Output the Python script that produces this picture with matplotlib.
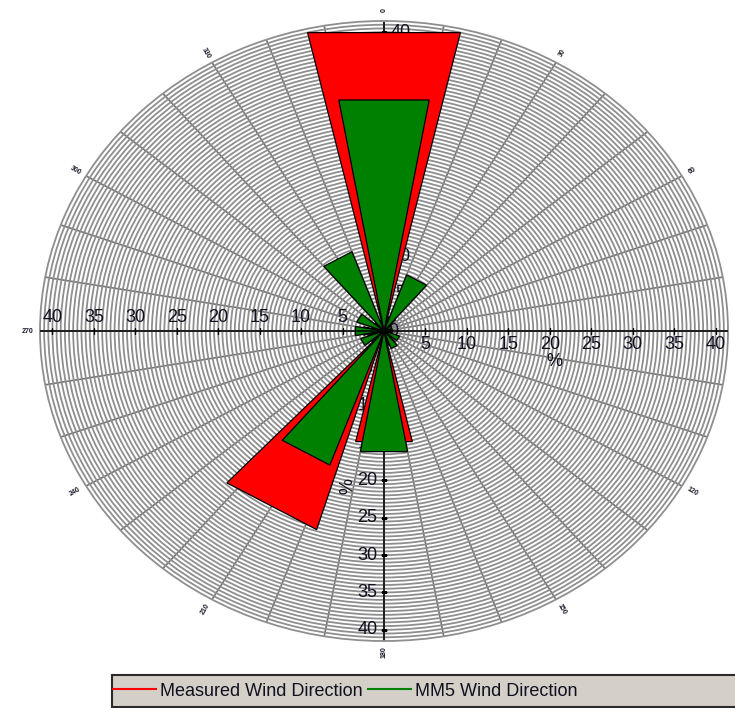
import numpy as np
import matplotlib
matplotlib.use("Agg")
import matplotlib.pyplot as plt
from matplotlib.lines import Line2D
from matplotlib.patches import Rectangle

plt.rcParams['font.family'] = ['Liberation Sans', 'DejaVu Sans']

# ---------------------------------------------------------------------------
# Data: frequency (%) of wind from each 30-degree sector
# ---------------------------------------------------------------------------
directions = [0, 30, 60, 90, 120, 150, 180, 210, 240, 270, 300, 330]
measured = [41.0, 2.0, 1.0, 1.0, 1.0, 2.0, 15.2, 27.8, 2.0, 2.5, 1.5, 1.5]
mm5 = [31.4, 8.0, 1.0, 1.0, 2.0, 2.5, 16.4, 19.1, 3.0, 3.5, 3.5, 11.3]

ring_ticks = [5, 10, 15, 20, 25, 30, 35, 40]
compass_ticks = [0, 30, 60, 120, 150, 180, 210, 240, 270, 300, 330]

R_MAX = 41.5
C_MEAS = "#ff0000"
C_MM5 = "#008000"
GRID = "#8e8e8e"
TXT = "#101020"

fig = plt.figure(figsize=(7.35, 7.08), dpi=100, facecolor="white")
ax = fig.add_axes([40 / 735, 67 / 708, 688 / 735, 620 / 708], projection="polar")
ax.set_aspect("auto")
ax.set_theta_zero_location("N")
ax.set_theta_direction(-1)
ax.set_ylim(0, R_MAX)
ax.set_axisbelow(True)

# dense rings every 0.5 %, spokes every 10 degrees
ax.set_yticks(np.arange(0.5, R_MAX, 0.5))
ax.set_yticklabels([])
ax.set_xticks(np.radians(np.arange(0, 360, 10)))
ax.set_xticklabels([])
ax.tick_params(length=0)
ax.yaxis.grid(True, color=GRID, lw=1.3)
ax.xaxis.grid(True, color="#747474", lw=1.2)
ax.spines["polar"].set_color(GRID)
ax.spines["polar"].set_linewidth(1.3)


def sector(d, v, half, color, z):
    th = np.radians([d, d - half, d + half])
    ax.fill(th, [0, v, v], facecolor=color, edgecolor="black", lw=0.9, zorder=z)


# vertical axis sits under the bars
ax.plot([0, 0], [0, R_MAX], color="black", lw=1.1, zorder=1.2)
ax.plot([np.pi, np.pi], [0, R_MAX], color="black", lw=1.1, zorder=1.2)
ax.plot([0] * len(ring_ticks), ring_ticks, ls="none", marker="_", ms=5,
        color="black", zorder=1.2)
ax.plot([np.pi] * len(ring_ticks), ring_ticks, ls="none", marker="_", ms=5,
        color="black", zorder=1.2)

# ring labels on the four half-axes
for v in ring_ticks:
    ax.annotate(str(v), xy=(np.radians(90), v), xytext=(0, -10),
                textcoords="offset points", ha="center", va="center",
                fontsize=13, color=TXT, zorder=1.3)
    ax.annotate(str(v), xy=(np.radians(270), v), xytext=(0, 10),
                textcoords="offset points", ha="center", va="center",
                fontsize=13, color=TXT, zorder=1.3)
    ax.annotate(str(v), xy=(0, v), xytext=(12, 0),
                textcoords="offset points", ha="center", va="center",
                fontsize=13, color=TXT, zorder=1.3)
    ax.annotate(str(v), xy=(np.pi, v), xytext=(-12, 0),
                textcoords="offset points", ha="center", va="center",
                fontsize=13, color=TXT, zorder=1.3)
ax.annotate("0", xy=(0, 0), xytext=(6.5, 0), textcoords="offset points",
            ha="center", va="center", fontsize=13, color=TXT, zorder=1.3)
ax.annotate("%", xy=(np.radians(90), 20.6), xytext=(0, -22),
            textcoords="offset points", ha="center", va="center",
            fontsize=13, color=TXT, zorder=1.3)
ax.annotate("%", xy=(np.pi, 20.8), xytext=(-26, 0),
            textcoords="offset points", ha="center", va="center",
            fontsize=13, color=TXT, rotation=90, zorder=1.3)

# bars: measured wider underneath, MM5 on top
for d, v in zip(directions, measured):
    sector(d, v, 13, C_MEAS, 2.0)
for d, v in zip(directions, mm5):
    sector(d, v, 10, C_MM5, 2.1)

# horizontal axis drawn over the bars
ax.plot([np.radians(90)] * 2, [0, R_MAX], color="black", lw=1.1, zorder=5)
ax.plot([np.radians(270)] * 2, [0, R_MAX], color="black", lw=1.1, zorder=5)
ax.plot([np.radians(90)] * len(ring_ticks), ring_ticks, ls="none", marker="|",
        ms=5, color="black", zorder=5)
ax.plot([np.radians(270)] * len(ring_ticks), ring_ticks, ls="none", marker="|",
        ms=5, color="black", zorder=5)

# tiny compass labels just outside the rim
for d in compass_ticks:
    rot = 90 - d
    while rot > 90:
        rot -= 180
    while rot <= -90:
        rot += 180
    ax.text(np.radians(d), 43.0, str(d), fontsize=5, fontweight="bold",
            color="#1a1a2a", rotation=rot, ha="center", va="center",
            rotation_mode="anchor")

# legend strip along the bottom
fig.patches.append(Rectangle((112 / 735, 1 / 708), 640 / 735, 32 / 708,
                             transform=fig.transFigure, facecolor="#d4d0c8",
                             edgecolor="#2a2a2a", lw=1.5, zorder=0))
handles = [Line2D([0], [0], color=C_MEAS, lw=1.5),
           Line2D([0], [0], color=C_MM5, lw=1.5)]
fig.legend(handles, ["Measured Wind Direction", "MM5 Wind Direction"],
           loc="center left", bbox_to_anchor=(113 / 735, 1 - 691 / 708),
           ncol=2, frameon=False, fontsize=13, handlelength=2.36,
           handletextpad=0.27, columnspacing=0.27, borderpad=0,
           borderaxespad=0, labelcolor=TXT)

fig.savefig("out.png", dpi=100, facecolor="white")
